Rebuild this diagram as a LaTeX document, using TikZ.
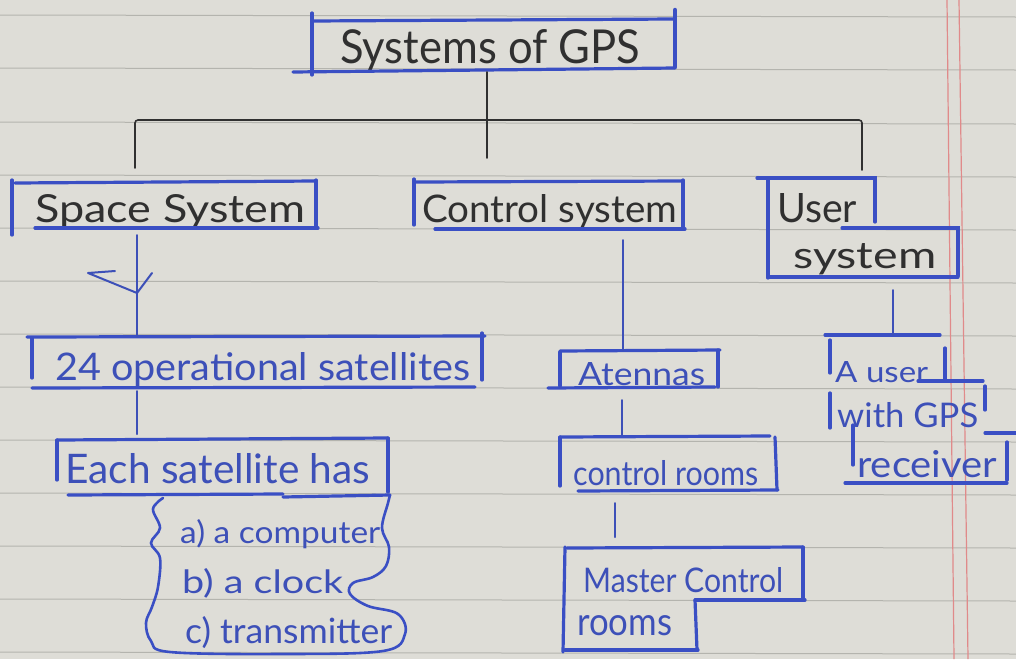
\documentclass[tikz,border=0pt]{standalone}
\usepackage{fontspec}
\setmainfont{Lato}
\usepackage{graphicx}
\definecolor{paper}{HTML}{DEDDD7}
\definecolor{rule}{HTML}{B4B4AE}
\definecolor{margin}{HTML}{E08A8A}
\definecolor{ink}{HTML}{3A4FC4}
\definecolor{ink2}{HTML}{3D50B8}
\definecolor{pen}{HTML}{303030}
\newcommand\fitw[3]{\resizebox{#1pt}{#2pt}{#3}}
\begin{document}
\begin{tikzpicture}[x=1pt,y=-1pt,
  frame/.style={line width=3.2pt, draw=ink, line cap=round},
  wire/.style={line width=1.6pt, draw=pen, line cap=round},
  bwire/.style={line width=2pt, draw=ink2, line cap=round},
  lbl/.style={anchor=base west, inner sep=0pt, text=pen},
  blbl/.style={anchor=base west, inner sep=0pt, text=ink2}]
% paper
\fill[paper] (0,0) rectangle (1016,659);
\useasboundingbox (0,0) rectangle (1016,659);
\foreach \y in {15,68,122,175,228,281,334,387,440,493,546,599,652}
  \draw[rule, line width=1pt] (0,\y) -- (1016,\y+2);
\draw[margin, line width=1.2pt] (947,0) -- (954,659);
\draw[margin, line width=1.2pt] (959,0) -- (968,659);

% ---------- texts ----------
\node[lbl]  (title)  at (340,63)  {\fitw{300}{34}{Systems of GPS}};
\node[lbl]  (space)  at (35,222)  {\fitw{270}{28}{Space System}};
\node[lbl]  (control) at (422,222) {\fitw{255}{28}{Control system}};
\node[lbl]  (user1)  at (777,222) {\fitw{80}{29}{User}};
\node[lbl]  (user2)  at (793,268) {\fitw{143}{25}{system}};
\node[blbl] (sats)   at (55,380)  {\fitw{415}{28}{24 operational satellites}};
\node[blbl] (each)   at (65,483)  {\fitw{305}{30}{Each satellite has}};
\node[blbl] (ia)     at (180,543) {\fitw{200}{24}{a) a computer}};
\node[blbl] (ib)     at (182,593) {\fitw{161}{25}{b) a clock}};
\node[blbl] (ic)     at (185,643) {\fitw{207}{27}{c) transmitter}};
\node[blbl] (ant)    at (578,385) {\fitw{127}{23}{Atennas}};
\node[blbl] (rooms)  at (573,485) {\fitw{185}{25}{control rooms}};
\node[blbl] (master1) at (583,592) {\fitw{200}{25}{Master Control}};
\node[blbl] (master2) at (577,635) {\fitw{95}{20}{rooms}};
\node[blbl] (ua)     at (835,382) {\fitw{93}{21}{A user}};
\node[blbl] (ub)     at (837,427) {\fitw{141}{25}{with GPS}};
\node[blbl] (uc)     at (857,477) {\fitw{140}{27}{receiver}};

% ---------- frames ----------
% title
\draw[frame] (312,13) -- (312,75);
\draw[frame] (312,21) -- (675,19);
\draw[frame, line width=4.5pt] (675,10) -- (675,67);
\draw[frame] (293,72) -- (675,68);
% space system
\draw[frame] (12,180) -- (12,235);
\draw[frame] (15,183) -- (316,181);
\draw[frame] (316,180) -- (316,228);
\draw[frame] (35,228) -- (318,228);
% control system
\draw[frame] (414,179) -- (414,225);
\draw[frame] (416,182) -- (683,181);
\draw[frame] (683,180) -- (683,228);
\draw[frame] (435,229) -- (685,229);
% user system
\draw[frame] (757,178) -- (875,178) -- (875,222);
\draw[frame] (768,178) -- (768,278);
\draw[frame] (842,228) -- (958,228) -- (958,276);
\draw[frame] (768,277) -- (958,277);
% 24 operational satellites
\draw[frame] (32,338) -- (32,378);
\draw[frame] (27,337) -- (485,336);
\draw[frame] (482,333) -- (482,380);
\draw[frame] (32,388) -- (475,387);
% each satellite has
\draw[frame] (57,440) -- (57,480);
\draw[frame] (57,440) -- (388,438);
\draw[frame] (388,438) -- (388,492);
\draw[frame] (68,495) -- (283,494);
\draw[frame] (283,497) -- (390,495);
\draw[frame, line width=2.6pt] plot[smooth, tension=0.6] coordinates {
 (163,498) (153,509) (160,528) (151,543) (160,558) (158,587) (152,607)
 (146,623) (151,641) (170,652) (280,654) (383,651) (405,634) (398,614)
 (368,606) (350,594) (353,583) (373,577) (386,566) (389,547) (382,528) (388,503) (390,495)};
% atennas
\draw[frame] (560,352) -- (560,386);
\draw[frame] (560,351) -- (720,350);
\draw[frame] (718,350) -- (718,387);
\draw[frame] (548,388) -- (715,387);
% control rooms
\draw[frame] (560,437) -- (560,486);
\draw[frame] (560,437) -- (770,436);
\draw[frame] (775,437) -- (777,490);
\draw[frame] (578,491) -- (778,490);
% master control rooms
\draw[frame] (565,547) -- (563,652);
\draw[frame] (567,548) -- (803,547);
\draw[frame] (803,547) -- (803,600);
\draw[frame] (695,600) -- (805,600);
\draw[frame] (695,600) -- (697,650);
\draw[frame] (565,650) -- (698,650);
% a user with GPS receiver
\draw[frame] (825,335) -- (940,335);
\draw[frame] (830,340) -- (830,373);
\draw[frame] (945,348) -- (945,380);
\draw[frame] (918,381) -- (983,381);
\draw[frame] (985,386) -- (985,410);
\draw[frame] (830,393) -- (830,428);
\draw[frame] (985,433) -- (1016,433);
\draw[frame] (1007,442) -- (1007,480);
\draw[frame] (853,425) -- (853,465);
\draw[frame] (845,483) -- (1007,483);

% ---------- connectors ----------
\coordinate (titleB) at (487,72);
\coordinate (hub) at (487,120);
\coordinate (hubEnd) at (487,158);
\coordinate (spaceT) at (135,168);
\coordinate (userT) at (862,170);
\draw[wire] (titleB) -- (hubEnd);
\draw[wire, rounded corners=3pt] (spaceT) |- (hub) -| (userT);

\coordinate (spaceB) at (137,235);
\coordinate (satsT) at (137,336);
\coordinate (satsB) at (137,391);
\coordinate (eachT) at (137,434);
\draw[bwire] (spaceB) -- (satsT);
\draw[bwire] (satsB) -- (eachT);
\draw[bwire, line join=round] (115,271) -- (88,273) -- (137,293) -- (152,273);

\coordinate (controlB) at (623,240);
\coordinate (antT) at (623,350);
\coordinate (antB) at (622,400);
\coordinate (roomsT) at (622,435);
\coordinate (roomsB) at (615,503);
\coordinate (masterT) at (615,537);
\draw[bwire] (controlB) -- (antT);
\draw[bwire] (antB) -- (roomsT);
\draw[bwire] (roomsB) -- (masterT);

\coordinate (userB) at (893,290);
\coordinate (uaT) at (893,335);
\draw[bwire] (userB) -- (uaT);
\end{tikzpicture}
\end{document}
